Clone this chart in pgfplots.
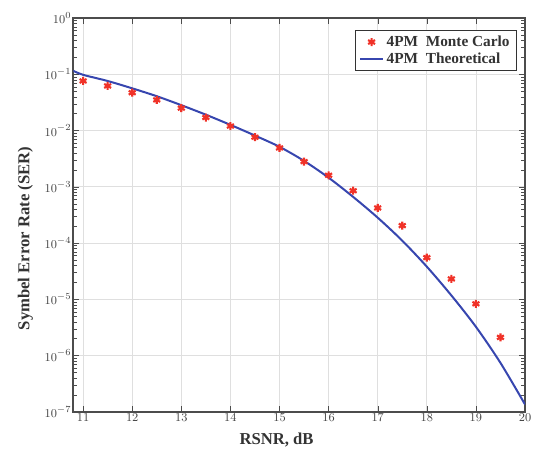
\documentclass[border=0pt]{standalone}
\usepackage{fontspec}
\setmainfont{Liberation Serif}
\usepackage{pgfplots}
\pgfplotsset{compat=1.18}
\usetikzlibrary{calc}
\definecolor{theo}{RGB}{55,70,175}
\definecolor{mc}{RGB}{240,50,40}
\begin{document}
\begin{tikzpicture}
\begin{axis}[
  scale only axis,
  width=339pt, height=295.5pt,
  ymode=log,
  xmin=10.8, xmax=20,
  ymin=1e-7, ymax=1,
  xtick={11,12,...,20},
  ytick={1e-7,1e-6,1e-5,1e-4,1e-3,1e-2,1e-1,1},
  grid=major,
  major grid style={gray!25, line width=0.6pt},
  axis line style={black!70, line width=1.2pt},
  tick style={black!70},
  tick align=inside,
  xtick pos=both, ytick pos=both,
  minor y tick num=8,
  tick label style={font=\fontsize{9.5}{10}\selectfont, black!75},
  xticklabel style={yshift=2pt},
  yticklabel style={xshift=2pt},
  xlabel={RSNR, dB},
  ylabel={Symbel Error Rate (SER)},
  every axis x label/.style={at={(axis description cs:0.45,-0.071)}, anchor=center,
     font=\fontsize{12.5}{13}\selectfont\bfseries, text=black!80},
  every axis y label/.style={at={(axis description cs:-0.106,0.44)}, rotate=90, anchor=center,
     font=\fontsize{12.5}{13}\selectfont\bfseries, text=black!80},
  legend style={at={(0.982,0.97)}, anchor=north east, draw=black!80, line width=0.9pt,
     font=\fontsize{11.5}{12}\selectfont\bfseries, text=black!80, inner xsep=3pt, inner ysep=2pt, row sep=-1pt},
  legend cell align=left,
]
\addplot[only marks, mark=asterisk, mark size=3pt, mc, line width=1.6pt] coordinates {
(11,0.076) (11.5,0.062) (12,0.047) (12.5,0.035) (13,0.025) (13.5,0.017)
(14,0.012) (14.5,0.0076) (15,0.0049) (15.5,0.0028) (16,0.0016) (16.5,0.00085)
(17,0.00042) (17.5,0.000204) (18,5.5e-5) (18.5,2.3e-5) (19,8.3e-6) (19.5,2.1e-6)
};
\addlegendentry{4PM\ \ Monte Carlo}
\addplot[theo, line width=1.5pt, smooth] coordinates {
(10.8,0.115) (11,0.0977) (11.5,0.0759) (12,0.0562) (12.5,0.0407) (13,0.0282)
(13.5,0.0191) (14,0.0126) (14.5,0.00813) (15,0.00513) (15.5,0.00288)
(16,0.00145) (16.5,6.6e-4) (17,2.82e-4) (17.5,1.10e-4) (18,3.8e-5)
(18.5,1.17e-5) (19,3.24e-6) (19.5,7.4e-7) (20,1.35e-7)
};
\addlegendentry{4PM\ \ Theoretical}
\end{axis}
\pgfresetboundingbox
\path[use as bounding box] ($(current axis.south west)+(-55pt,-32pt)$) rectangle ($(current axis.north east)+(7.5pt,13.5pt)$);
\end{tikzpicture}
\end{document}
